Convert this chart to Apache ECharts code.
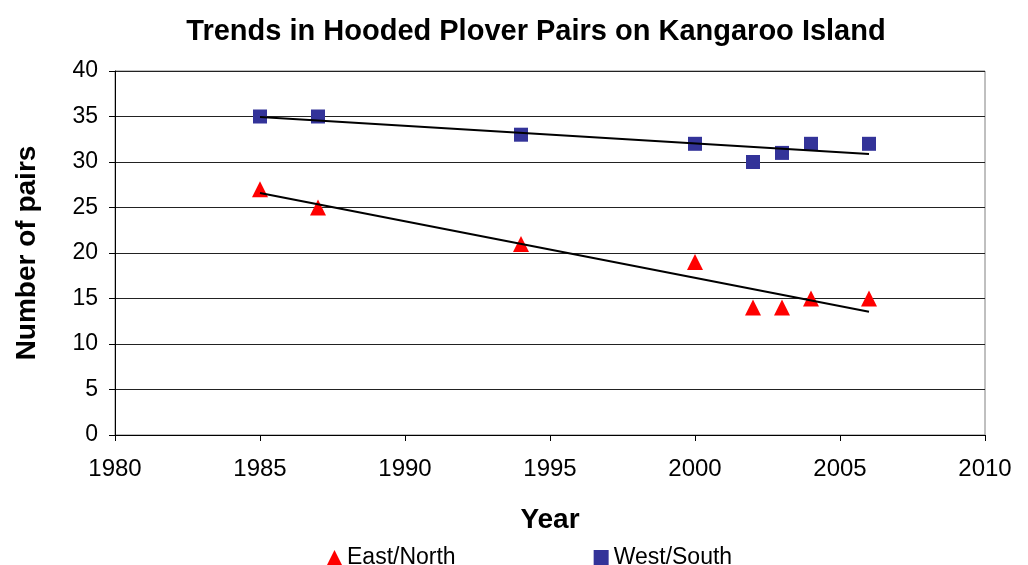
<!DOCTYPE html>
<html>
<head>
<meta charset="utf-8">
<script src="https://cdn.jsdelivr.net/npm/echarts@6/dist/echarts.min.js"></script>
<style>
html,body{margin:0;padding:0;background:#fff;}
#chart{width:1028px;height:565px;}
</style>
</head>
<body>
<div id="chart"></div>
<script>
// survey years and counts of pairs
var years = [1985, 1987, 1994, 2000, 2002, 2003, 2004, 2006]
var eastNorth = [27, 25, 21, 19, 14, 14, 15, 15]
var westSouth = [35, 35, 33, 32, 30, 31, 32, 32]

function pairs(ys){
	var out = []
	for(var i=0;i<years.length;i++){
		out.push([years[i], ys[i]])
	}
	return out
}

// least squares trend, drawn from first to last survey year
function trend(ys){
	var n = years.length, mx = 0, my = 0
	for(var i=0;i<n;i++){ mx += years[i]; my += ys[i] }
	mx /= n; my /= n
	var sxy = 0, sxx = 0
	for(var i=0;i<n;i++){
		sxy += (years[i]-mx)*(ys[i]-my)
		sxx += (years[i]-mx)*(years[i]-mx)
	}
	var b = sxy/sxx
	var x0 = years[0], x1 = years[n-1]
	return [[x0, my + b*(x0-mx)], [x1, my + b*(x1-mx)]]
}

var chart = echarts.init(document.getElementById('chart'))
var font = 'Liberation Sans, Arial, sans-serif'

var option = {
	animation:false,
	textStyle:{fontFamily:font},
	title:{
		text:'Trends in Hooded Plover Pairs on Kangaroo Island',
		left:531,
		textAlign:'center',
		top:12,
		textStyle:{fontSize:29, fontWeight:'bold', color:'#000', fontFamily:font}
	},
	legend:{
		top:541,
		left:322,
		itemGap:138,
		itemWidth:15,
		itemHeight:15,
		data:[
			{name:'East/North', icon:'triangle'},
			{name:'West/South', icon:'rect'}
		],
		textStyle:{fontSize:23, color:'#000', fontFamily:font}
	},
	grid:{
		left:115,
		right:43,
		top:71,
		bottom:130,
		show:true,
		borderColor:'#808080',
		borderWidth:1
	},
	xAxis:{
		type:'value',
		min:1980,
		max:2010,
		interval:5,
		name:'Year',
		nameLocation:'middle',
		nameGap:71,
		nameTextStyle:{fontSize:28, fontWeight:'bold', color:'#000'},
		axisLine:{show:true, lineStyle:{color:'#000', width:1}},
		axisTick:{show:true, inside:false, length:6, lineStyle:{color:'#000'}},
		axisLabel:{fontSize:24, color:'#000', margin:22, formatter:function(v){ return String(v) }},
		splitLine:{show:false}
	},
	yAxis:{
		type:'value',
		min:0,
		max:40,
		interval:5,
		name:'Number of pairs',
		nameLocation:'middle',
		nameGap:74,
		nameTextStyle:{fontSize:28, fontWeight:'bold', color:'#000'},
		axisLine:{show:true, lineStyle:{color:'#000', width:1}},
		axisTick:{show:true, inside:false, length:6, lineStyle:{color:'#000'}},
		axisLabel:{fontSize:23, color:'#000', margin:17},
		splitLine:{show:true, lineStyle:{color:'#222', width:1}}
	},
	series:[
		{
			name:'East/North',
			type:'scatter',
			symbol:'triangle',
			symbolSize:16,
			itemStyle:{color:'#ff0000', opacity:1},
			data:pairs(eastNorth),
			z:3
		},
		{
			name:'West/South',
			type:'scatter',
			symbol:'rect',
			symbolSize:14,
			itemStyle:{color:'#333399', opacity:1},
			data:pairs(westSouth),
			z:3
		},
		{
			name:'East/North trend',
			type:'line',
			showSymbol:false,
			symbol:'none',
			lineStyle:{color:'#000', width:2},
			data:trend(eastNorth),
			z:4
		},
		{
			name:'West/South trend',
			type:'line',
			showSymbol:false,
			symbol:'none',
			lineStyle:{color:'#000', width:2},
			data:trend(westSouth),
			z:4
		}
	]
}
chart.setOption(option)
</script>
</body>
</html>
